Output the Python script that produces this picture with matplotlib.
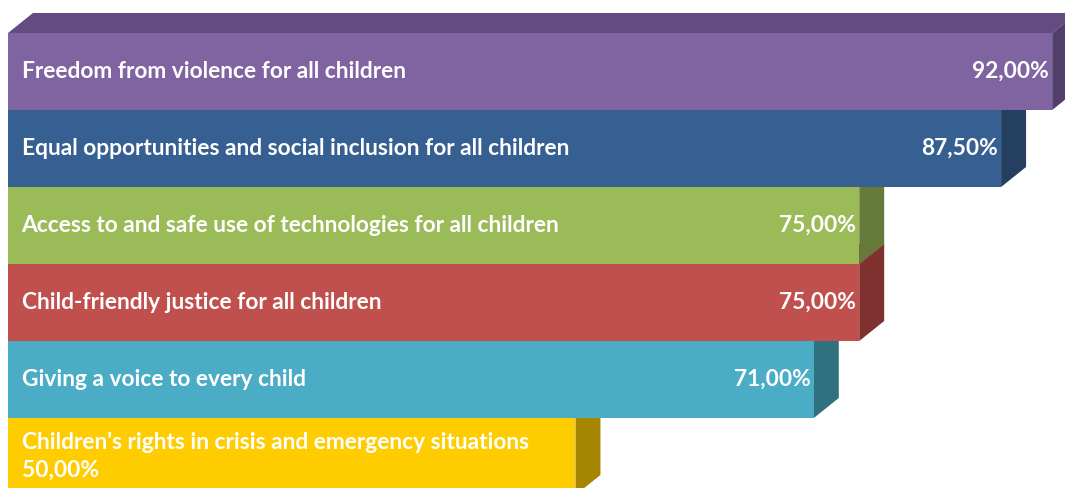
import matplotlib.pyplot as plt
from matplotlib.patches import Polygon

categories = [
    "Freedom from violence for all children",
    "Equal opportunities and social inclusion for all children",
    "Access to and safe use of technologies for all children",
    "Child-friendly justice for all children",
    "Giving a voice to every child",
    "Children's rights in crisis and emergency situations",
]
values = [92.0, 87.5, 75.0, 75.0, 71.0, 50.0]
front_colors = ["#8064A2", "#376092", "#9BBB59", "#C0504D", "#4BACC6", "#FFCC00"]
side_colors = ["#523F6B", "#243F60", "#667B3A", "#7F312F", "#30717F", "#A68500"]
top_colors = ["#634C7F", "#2C4D76", "#7D9747", "#9A403E", "#3C8A9F", "#CCA300"]


def label(v):
    return f"{v:.2f}".replace(".", ",") + "%"


def plot():
    fig = plt.figure(figsize=(10.65, 4.88), dpi=100)
    ax = fig.add_axes([0, 0, 1, 1])

    # depth of the fake 3d extrusion, in data units
    dx, dy = 2.2, 0.26
    ypos = list(range(len(values)))

    # top faces lowest, then sides, then the fronts on top
    for y, v, sc, tc in zip(ypos, values, side_colors, top_colors):
        side = [(v, y - 0.5), (v, y + 0.5), (v + dx, y + 0.5 - dy), (v + dx, y - 0.5 - dy)]
        top = [(0, y - 0.5), (v, y - 0.5), (v + dx, y - 0.5 - dy), (dx, y - 0.5 - dy)]
        ax.add_patch(Polygon(top, closed=True, facecolor=tc, edgecolor="none", zorder=0.5))
        ax.add_patch(Polygon(side, closed=True, facecolor=sc, edgecolor="none", zorder=1))

    ax.barh(ypos, values, height=1.0, color=front_colors, zorder=2)

    font = dict(family="Lato", weight="bold", color="white", fontsize=16.4, zorder=3)
    for y, v, name in zip(ypos[:-1], values[:-1], categories[:-1]):
        ax.text(1.2, y, name, ha="left", va="center", **font)
        ax.text(v - 0.3, y, label(v), ha="right", va="center", **font)

    # last bar is short, so the value goes under the name
    ax.text(1.2, ypos[-1], categories[-1] + "\n" + label(values[-1]),
            ha="left", va="center", linespacing=1.38, **font)

    ax.set_xlim(-0.705, 93.13)
    ax.set_ylim(5.409, -0.9286)
    ax.axis("off")
    fig.savefig("out.png", dpi=100, facecolor="white")


if __name__ == "__main__":
    plot()
